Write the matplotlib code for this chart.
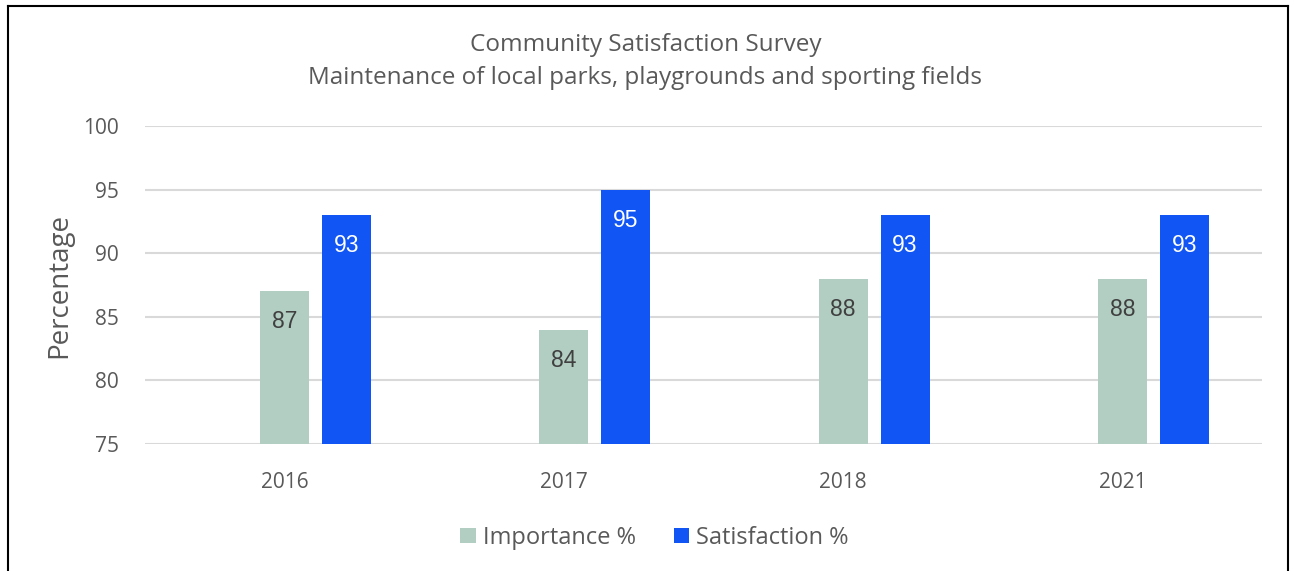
import matplotlib.pyplot as plt
from matplotlib.lines import Line2D
from matplotlib.patches import Patch

# survey results, per year
years = ["2016", "2017", "2018", "2021"]
importance = [87, 84, 88, 88]
satisfaction = [93, 95, 93, 93]

green = "#B2CEC2"
blue = "#1156F5"
grey_text = "#595959"

plt.rcParams["font.family"] = ["Open Sans", "DejaVu Sans"]

fig = plt.figure(figsize=(12.91, 5.71), dpi=100)
ax = fig.add_axes([0.1123, 0.2224, 0.8652, 0.5569])

x = list(range(len(years)))
width = 0.175
offset = 0.222

bars_imp = ax.bar(x, [v - 75 for v in importance], width, bottom=75,
                  color=green, zorder=3)
bars_sat = ax.bar([i + offset for i in x], [v - 75 for v in satisfaction], width,
                  bottom=75, color=blue, zorder=3)

# value labels sit just inside the top of each bar
for bar, v in zip(bars_imp, importance):
    ax.text(bar.get_x() + bar.get_width() / 2, v - 2.4, str(v),
            ha="center", va="center", fontsize=16.5, color="#404040",
            family="Liberation Sans", zorder=4)
for bar, v in zip(bars_sat, satisfaction):
    ax.text(bar.get_x() + bar.get_width() / 2, v - 2.4, str(v),
            ha="center", va="center", fontsize=16.5, color="white",
            family="Liberation Sans", zorder=4)

ax.set_xlim(-0.5, len(years) - 0.5)
ax.set_ylim(75, 100)
ax.set_yticks([75, 80, 85, 90, 95, 100])
ax.set_xticks(x)
ax.set_xticklabels(years)
ax.tick_params(axis="both", length=0, labelsize=15, labelcolor=grey_text)
ax.tick_params(axis="y", pad=19)
ax.tick_params(axis="x", pad=20)
ax.grid(axis="y", color="#d9d9d9", linewidth=1.5, zorder=0)
for s in ax.spines.values():
    s.set_visible(False)

ax.set_ylabel("Percentage", fontsize=20, color=grey_text, labelpad=7)

fig.text(0.5, 0.921, "Community Satisfaction Survey", ha="center", va="center",
         fontsize=17.5, color=grey_text)
fig.text(0.5, 0.863, "Maintenance of local parks, playgrounds and sporting fields",
         ha="center", va="center", fontsize=17.5, color=grey_text)

handles = [Patch(facecolor=green), Patch(facecolor=blue)]
fig.legend(handles, ["Importance %", "Satisfaction %"], loc="center",
           bbox_to_anchor=(0.507, 0.058), ncol=2, frameon=False, fontsize=17,
           labelcolor=grey_text, handlelength=0.65, handleheight=0.65,
           handletextpad=0.3, columnspacing=1.6)

# frame drawn around the chart
frame_kw = dict(color="black", linewidth=1.5, transform=fig.transFigure)
fig.add_artist(Line2D([8 / 1291, 8 / 1291], [0, 1 - 6 / 571], **frame_kw))
fig.add_artist(Line2D([8 / 1291, 1288 / 1291], [1 - 6 / 571, 1 - 6 / 571], **frame_kw))
fig.add_artist(Line2D([1288 / 1291, 1288 / 1291], [0, 1 - 6 / 571], **frame_kw))

fig.savefig("out.png", dpi=100, facecolor="white")
